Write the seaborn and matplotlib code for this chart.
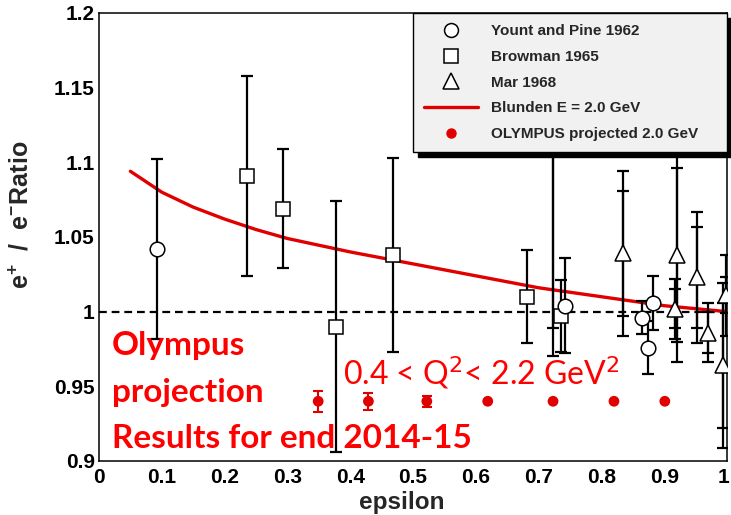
import numpy as np
import pandas as pd
import matplotlib
matplotlib.use("Agg")
import matplotlib.pyplot as plt
import seaborn as sns
from matplotlib.lines import Line2D
from matplotlib.font_manager import FontProperties
from matplotlib.ticker import FixedLocator, MultipleLocator
from matplotlib.transforms import ScaledTranslation

# ---------------- data ----------------
# Yount and Pine 1962 (circles)
yp_eps = [0.093, 0.742, 0.865, 0.874, 0.882]
yp_r = [1.042, 1.004, 0.996, 0.976, 1.006]
yp_err = [0.060, 0.032, 0.011, 0.018, 0.018]

# Browman 1965 (squares)
br_eps = [0.236, 0.293, 0.377, 0.468, 0.681, 0.735]
br_r = [1.091, 1.069, 0.990, 1.038, 1.010, 0.997]
br_err = [0.067, 0.040, 0.084, 0.065, 0.031, 0.024]

# Mar 1968 (triangles), total and statistical errors
mar_eps = [0.723, 0.834, 0.920, 0.917, 0.952, 0.970, 0.998, 0.994]
mar_r = [1.130, 1.039, 1.038, 1.002, 1.023, 0.986, 1.011, 0.964]
mar_tot = [0.160, 0.055, 0.072, 0.020, 0.044, 0.020, 0.027, 0.055]
mar_stat = [0.141, 0.042, 0.058, 0.013, 0.034, 0.014, 0.012, 0.042]

# Blunden E = 2.0 GeV curve
bl_eps = [0.05, 0.10, 0.15, 0.20, 0.25, 0.30, 0.40, 0.50, 0.60, 0.70, 0.80, 0.90, 1.00]
bl_r = [1.094, 1.080, 1.070, 1.062, 1.055, 1.049, 1.040, 1.032, 1.024, 1.016, 1.010, 1.004, 1.000]

# OLYMPUS projected 2.0 GeV
ol_eps = [0.349, 0.429, 0.522, 0.619, 0.723, 0.820, 0.901]
ol_r = [0.940, 0.940, 0.940, 0.940, 0.940, 0.940, 0.940]
ol_err = [0.0072, 0.0056, 0.0038, 0.0, 0.0, 0.0, 0.0]

legend_labels = ["Yount and Pine 1962", "Browman 1965", "Mar 1968",
                 "Blunden E = 2.0 GeV", "OLYMPUS projected 2.0 GeV"]
x_ticks = [0, 0.1, 0.2, 0.3, 0.4, 0.5, 0.6, 0.7, 0.8, 0.9, 1.0]
x_ticklabels = ["0", "0.1", "0.2", "0.3", "0.4", "0.5", "0.6", "0.7", "0.8", "0.9", "1"]
y_ticks = [0.9, 0.95, 1.0, 1.05, 1.1, 1.15, 1.2]
y_ticklabels = ["0.9", "0.95", "1", "1.05", "1.1", "1.15", "1.2"]

# ---------------- style ----------------
sns.set_style("white")
plt.rcParams["font.family"] = ["Liberation Sans", "DejaVu Sans"]
plt.rcParams["mathtext.fontset"] = "custom"
plt.rcParams["mathtext.rm"] = "Liberation Sans:bold"
plt.rcParams["mathtext.default"] = "rm"

RED = "#e00000"
fig = plt.figure(figsize=(7.31, 5.15), dpi=100)
ax = fig.add_axes([99 / 731, 54 / 515, 628 / 731, 448 / 515])

# dashed unity line
ax.axhline(1.0, color="black", lw=1.6, ls=(0, (3.5, 2.2)), zorder=1)

# Blunden curve
bl_df = pd.DataFrame({"eps": bl_eps, "r": bl_r})
sns.lineplot(data=bl_df, x="eps", y="r", color=RED, lw=2.4, ax=ax, zorder=2)

eb_kw = dict(fmt="none", ecolor="black", elinewidth=1.6, capsize=4.5, capthick=1.6, zorder=2)

# Mar
ax.errorbar(mar_eps, mar_r, yerr=mar_tot, **eb_kw)
ax.errorbar(mar_eps, mar_r, yerr=mar_stat, **eb_kw)
ax.plot(mar_eps, mar_r, ls="none", marker="^", ms=11, mfc="white", mec="black", mew=1.1, zorder=3)

# Browman
ax.errorbar(br_eps, br_r, yerr=br_err, **eb_kw)
ax.plot(br_eps, br_r, ls="none", marker="s", ms=10, mfc="white", mec="black", mew=1.1, zorder=3)

# Yount and Pine
ax.errorbar(yp_eps, yp_r, yerr=yp_err, **eb_kw)
ax.plot(yp_eps, yp_r, ls="none", marker="o", ms=10.5, mfc="white", mec="black", mew=1.1, zorder=3)

# OLYMPUS projection
ax.errorbar(ol_eps, ol_r, yerr=ol_err, fmt="none", ecolor=RED, elinewidth=1.5,
            capsize=3.5, capthick=1.5, zorder=3)
ol_df = pd.DataFrame({"eps": ol_eps, "r": ol_r})
sns.scatterplot(data=ol_df, x="eps", y="r", color=RED, s=60, edgecolor="none",
                ax=ax, zorder=4)

# axes
ax.set_xlim(0, 1)
ax.set_ylim(0.9, 1.2)
ax.xaxis.set_major_locator(FixedLocator(x_ticks))
ax.yaxis.set_major_locator(FixedLocator(y_ticks))
ax.set_xticklabels(x_ticklabels)
ax.set_yticklabels(y_ticklabels)
ax.xaxis.set_minor_locator(MultipleLocator(0.02))
ax.yaxis.set_minor_locator(MultipleLocator(0.01))
ax.tick_params(axis="both", which="both", direction="in", colors="black",
               top=False, right=False, width=1.0)
ax.tick_params(axis="y", which="major", length=13.5, pad=3)
ax.tick_params(axis="y", which="minor", length=7)
ax.tick_params(axis="x", which="major", length=9.5, pad=5)
ax.tick_params(axis="x", which="minor", length=5)
for lab in ax.get_xticklabels() + ax.get_yticklabels():
    lab.set_fontsize(15)
    lab.set_fontweight("bold")
# keep the last x tick label ("1") inside the figure edge
last = ax.get_xticklabels()[-1]
last.set_transform(last.get_transform() + ScaledTranslation(-3.5 / 100, 0, fig.dpi_scale_trans))
for sp in ax.spines.values():
    sp.set_color("black")
    sp.set_linewidth(1.1)

ax.set_xlabel("epsilon", fontsize=17.5, fontweight="bold")
ax.xaxis.set_label_coords(0.482, -0.068)
ax.set_ylabel("e$^{+}$  /  e$^{-}$Ratio", fontsize=18, fontweight="bold")
ax.yaxis.set_label_coords(-0.104, 0.55)

# legend
handles = [
    Line2D([], [], ls="none", marker="o", ms=10, mfc="white", mec="black", mew=1.1),
    Line2D([], [], ls="none", marker="s", ms=10, mfc="white", mec="black", mew=1.1),
    Line2D([], [], ls="none", marker="^", ms=11, mfc="white", mec="black", mew=1.1),
    Line2D([], [], color=RED, lw=2.4),
    Line2D([], [], ls="none", marker="o", ms=6.5, mfc=RED, mec=RED),
]
leg = ax.legend(handles, legend_labels, loc="upper left",
                bbox_to_anchor=(0.5, 0.6875, 0.5, 0.3125), mode="expand",
                prop=FontProperties(family="Liberation Sans", weight="bold", size=11),
                frameon=True, fancybox=False, facecolor="#f1f1f1", edgecolor="black",
                framealpha=1, shadow={"ox": 3.5, "oy": -3.5, "color": "black", "alpha": 1},
                handlelength=3.5, handletextpad=0.85, labelspacing=0.76,
                borderpad=0.75, borderaxespad=0, numpoints=1)
leg.get_frame().set_linewidth(1.0)
leg.set_zorder(10)

# red annotations
txt_font = ["Lato", "DejaVu Sans"]
ax.text(0.0207, 0.971, "Olympus", color="#ff0000", fontsize=24, fontweight="bold",
        family=txt_font, ha="left", va="baseline", zorder=6)
ax.text(0.0207, 0.9395, "projection", color="#ff0000", fontsize=24, fontweight="bold",
        family=txt_font, ha="left", va="baseline", zorder=6)
ax.text(0.0207, 0.9087, "Results for end 2014-15", color="#ff0000", fontsize=24,
        fontweight="bold", family=txt_font, ha="left", va="baseline", zorder=6)
ax.text(0.389, 0.9509, "0.4 < Q$^{2}$< 2.2 GeV$^{2}$", color="#ff0000", fontsize=23,
        family=txt_font, ha="left", va="baseline", zorder=6,
        math_fontfamily="dejavusans")

fig.savefig("out.png", dpi=100)
